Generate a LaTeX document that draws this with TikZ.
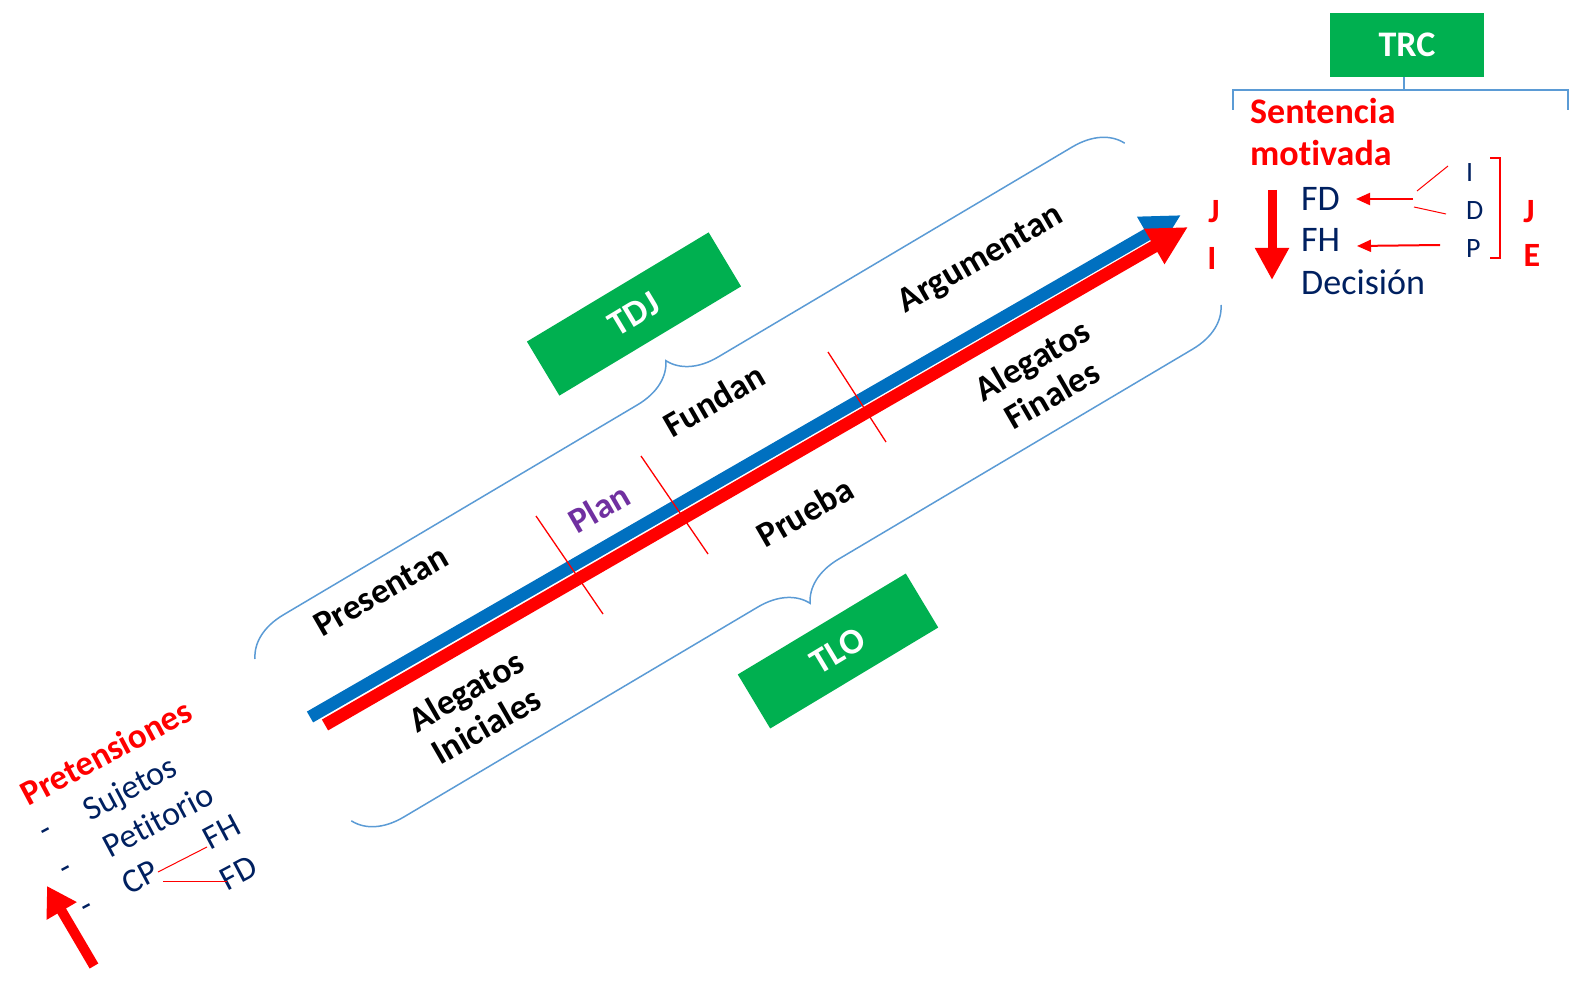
\documentclass[tikz,border=0pt]{standalone}
\usepackage{fontspec}
\setmainfont[Ligatures=NoCommon]{Carlito}
\usetikzlibrary{arrows.meta,decorations.pathreplacing}
\definecolor{grn}{HTML}{00B050}
\definecolor{blu}{HTML}{0070C0}
\definecolor{rd}{HTML}{FF0000}
\definecolor{brc}{HTML}{5B9BD5}
\definecolor{nvy}{HTML}{002060}
\definecolor{prp}{HTML}{7030A0}
\begin{document}
\begin{tikzpicture}[x=1pt,y=-1pt,
  lbl/.style={font=\fontsize{35.5}{40}\selectfont\bfseries, rotate=30, inner sep=0pt, align=center},
  greenbox/.style={fill=grn, text=white, font=\fontsize{36}{40}\selectfont\bfseries, minimum width=212pt, minimum height=63pt, rotate=31, inner sep=0pt},
  bracepath/.style={draw=brc, line width=1.5pt, decorate, decoration={brace, amplitude=47pt}},
  navytxt/.style={text=nvy, font=\fontsize{36}{42}\selectfont, inner sep=0pt, anchor=base west},
  smalltxt/.style={text=nvy, font=\fontsize{28}{34}\selectfont, inner sep=0pt, anchor=base west},
  redbold/.style={text=rd, font=\fontsize{34}{40}\selectfont\bfseries, inner sep=0pt, anchor=base},
  blnavy/.style={text=nvy, font=\fontsize{34}{40}\selectfont, inner sep=0pt, rotate=28},
  thinred/.style={draw=rd, line width=1.3pt},
  tick/.style={draw=rd, line width=1.3pt},
  bigarrow/.style={line cap=butt}
]
\useasboundingbox (0,0) rectangle (1575,981);

% ---------- braces ----------
\coordinate (tbA) at (255,659);
\coordinate (tbB) at (1125,143);
\coordinate (bbA) at (1221,305);
\coordinate (bbB) at (351,821);
\draw[bracepath] (tbA) -- (tbB);
\draw[bracepath] (bbA) -- (bbB);

% ---------- main arrows ----------
\coordinate (btail) at (310,717);
\coordinate (bhead) at (1181,215);
\coordinate (rtail) at (325,725);
\coordinate (rhead) at (1188,227);
\draw[bigarrow, blu, line width=12.5pt, -{Triangle[width=38pt,length=39pt]}] (btail) -- (bhead);
\draw[bigarrow, rd, line width=12.5pt, -{Triangle[width=38pt,length=39pt]}] (rtail) -- (rhead);

% ---------- ticks ----------
\coordinate (t1a) at (536,516); \coordinate (t1b) at (603,614);
\coordinate (t2a) at (641,456); \coordinate (t2b) at (708,554);
\coordinate (t3a) at (828,352); \coordinate (t3b) at (886,442);
\draw[tick] (t1a) -- (t1b);
\draw[tick] (t2a) -- (t2b);
\draw[tick] (t3a) -- (t3b);

% ---------- green boxes ----------
\node[greenbox] (tdj) at (634,314) {TDJ};
\node[greenbox, minimum width=196pt] (tlo) at (838,651) {TLO};

% ---------- labels along arrows ----------
\node[lbl] (presentan) at (381,591) {Presentan};
\node[lbl, text=prp] (plan) at (599,508) {Plan};
\node[lbl] (fundan) at (714,400) {Fundan};
\node[lbl] (prueba) at (805,512) {Prueba};
\node[lbl] (argumentan) at (981,260) {Argumentan};
\node[lbl] (aleini) at (476,708) {Alegatos\\Iniciales};
\node[lbl] (alefin) at (1042,377) {Alegatos\\Finales};

% ---------- right: TRC ----------
\node[fill=grn, text=white, font=\fontsize{36}{40}\selectfont\bfseries, minimum width=154pt, minimum height=64pt, inner sep=0pt] (trc) at (1407,45) {TRC};
\coordinate (trcstem) at (1404,90);
\coordinate (brL) at (1233,90);
\coordinate (brR) at (1568,90);
\coordinate (brLd) at (1233,110);
\coordinate (brRd) at (1568,110);
\draw[brc, line width=1.5pt] (trc.south -| trcstem) -- (trcstem);
\draw[brc, line width=1.5pt] (brLd) -- (brL) -- (brR) -- (brRd);

\node[text=rd, font=\fontsize{36}{42}\selectfont\bfseries, inner sep=0pt, anchor=base west] (sent) at (1250,124) {Sentencia};
\node[text=rd, font=\fontsize{36}{42}\selectfont\bfseries, inner sep=0pt, anchor=base west] (motiv) at (1250,166) {motivada};

\node[navytxt] (fd) at (1301,211) {FD};
\node[navytxt] (fh) at (1301,252) {FH};
\node[navytxt] (dec) at (1301,295) {Decisión};

\node[smalltxt] (ii) at (1466,182) {I};
\node[smalltxt] (dd) at (1466,220) {D};
\node[smalltxt] (pp) at (1466,258) {P};

\coordinate (sqA) at (1490,158); \coordinate (sqB) at (1500,158);
\coordinate (sqC) at (1500,258); \coordinate (sqD) at (1490,258);
\draw[thinred] (sqA) -- (sqB) -- (sqC) -- (sqD);

\coordinate (fdarrS) at (1413,199);
\coordinate (fdarrE) at (1356,199);
\coordinate (fharrS) at (1440,245);
\coordinate (fharrE) at (1357,246);
\draw[rd, line width=2pt, -{Triangle[width=12pt,length=14pt]}] (fdarrS) -- (fdarrE);
\draw[rd, line width=2pt, -{Triangle[width=12pt,length=14pt]}] (fharrS) -- (fharrE);
\coordinate (lnIa) at (1417,191); \coordinate (lnIb) at (1448,166);
\coordinate (lnDa) at (1414,207); \coordinate (lnDb) at (1446,214);
\draw[thinred, line width=1pt] (lnIa) -- (lnIb);
\draw[thinred, line width=1pt] (lnDa) -- (lnDb);

\coordinate (dnS) at (1272,190);
\coordinate (dnE) at (1272,280);
\draw[bigarrow, rd, line width=9pt, -{Triangle[width=32pt,length=32pt]}] (dnS) -- (dnE);

\node[redbold] (jl) at (1214,223) {J};
\node[redbold] (il) at (1212,270) {I};
\node[redbold] (jr) at (1529,223) {J};
\node[redbold] (er) at (1532,267) {E};

% ---------- bottom-left ----------
\node[text=rd, font=\fontsize{35}{40}\selectfont\bfseries, inner sep=0pt, rotate=28] (pret) at (106,752) {Pretensiones};
\node[blnavy] (suj) at (131,790) {Sujetos};
\node[blnavy] (pet) at (158,820) {Petitorio};
\node[blnavy] (cp) at (140,877) {CP};
\node[blnavy] (fh2) at (222,832) {FH};
\node[blnavy] (fd2) at (239,873) {FD};
\node[blnavy] (d1) at (48,834) {-};
\node[blnavy] (d2) at (68,872) {-};
\node[blnavy] (d3) at (89,910) {-};
\coordinate (cpa) at (158,872); \coordinate (cpb) at (207,847);
\coordinate (cpc) at (163,881); \coordinate (cpd) at (227,881);
\draw[thinred, line width=1pt] (cpa) -- (cpb);
\draw[thinred, line width=1pt] (cpc) -- (cpd);

\coordinate (upS) at (94,966);
\coordinate (upE) at (47,886);
\draw[bigarrow, rd, line width=10pt, -{Triangle[width=33pt,length=29pt]}] (upS) -- (upE);
\end{tikzpicture}
\end{document}
